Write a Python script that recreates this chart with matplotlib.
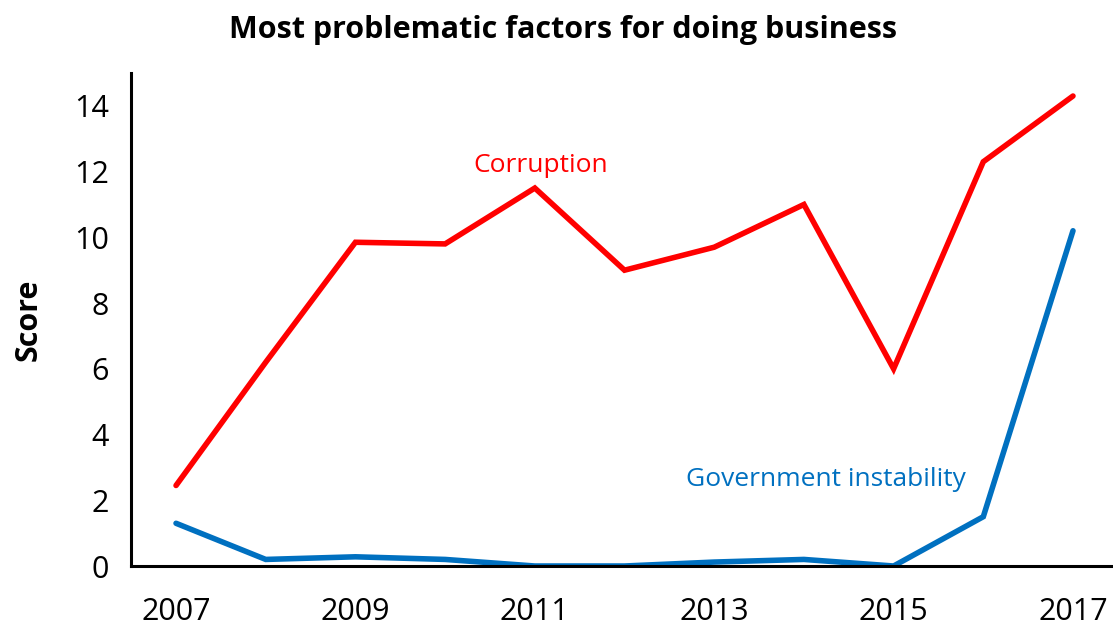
import matplotlib
matplotlib.use("Agg")
import matplotlib.pyplot as plt

years = [2007, 2008, 2009, 2010, 2011, 2012, 2013, 2014, 2015, 2016, 2017]
corruption = [2.45, 6.2, 9.85, 9.8, 11.5, 9.0, 9.7, 11.0, 6.0, 12.3, 14.3]
gov_instability = [1.3, 0.2, 0.28, 0.2, 0.0, 0.0, 0.12, 0.2, 0.0, 1.5, 10.2]
x_ticks = [2007, 2009, 2011, 2013, 2015, 2017]
y_ticks = [0, 2, 4, 6, 8, 10, 12, 14]

plt.rcParams['font.family'] = ['Open Sans', 'DejaVu Sans']

fig = plt.figure(figsize=(11.13, 6.31), dpi=100)
ax = fig.add_axes([0.1177, 0.103, 0.8823, 0.7813])

ax.plot(years, corruption, color='#FF0000', lw=4, solid_capstyle='round', solid_joinstyle='miter')
ax.plot(years, gov_instability, color='#0070C0', lw=4, solid_capstyle='round', solid_joinstyle='miter')

ax.set_xlim(2006.498, 2017.446)
ax.set_ylim(0, 15)
ax.set_xticks(x_ticks)
ax.set_yticks(y_ticks)
ax.tick_params(length=0, labelsize=22)
ax.tick_params(axis='x', pad=22)
ax.tick_params(axis='y', pad=16)
for s in ['top', 'right']:
    ax.spines[s].set_visible(False)
for s in ['left', 'bottom']:
    ax.spines[s].set_linewidth(2.2)
    ax.spines[s].set_color('black')

ax.set_ylabel('Score', fontsize=22, fontweight='bold')
ax.yaxis.set_label_coords(-0.0886, 0.499)
fig.text(0.506, 0.952, 'Most problematic factors for doing business', ha='center', va='center',
         fontsize=22, fontweight='bold')

ax.text(2011.06, 12.2, 'Corruption', color='#FF0000', fontsize=19, ha='center', va='center')
ax.text(2014.25, 2.62, 'Government instability', color='#0070C0', fontsize=19, ha='center', va='center')

fig.savefig('out.png', dpi=100)
